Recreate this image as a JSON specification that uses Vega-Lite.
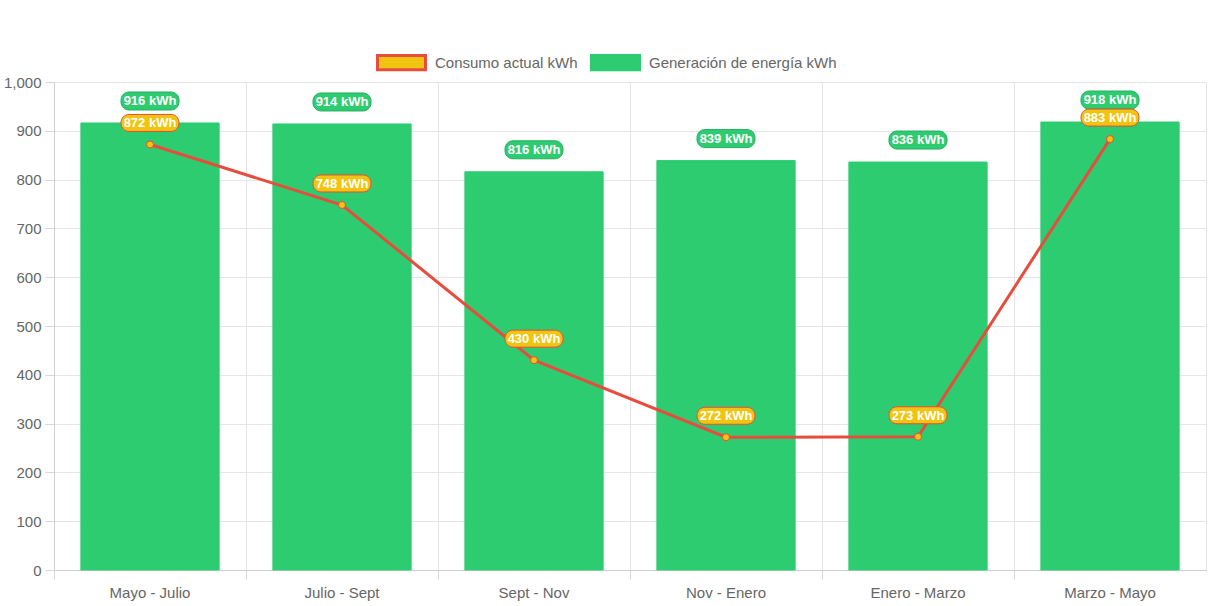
{
  "$schema": "https://vega.github.io/schema/vega-lite/v6.json",
  "width": 1152,
  "height": 488,
  "autosize": "none",
  "padding": {"left": 54, "top": 82, "right": 7, "bottom": 36},
  "background": "white",
  "data": {
    "values": [
      {"periodo": "Mayo - Julio", "generacion": 916, "consumo": 872},
      {"periodo": "Julio - Sept", "generacion": 914, "consumo": 748},
      {"periodo": "Sept - Nov", "generacion": 816, "consumo": 430},
      {"periodo": "Nov - Enero", "generacion": 839, "consumo": 272},
      {"periodo": "Enero - Marzo", "generacion": 836, "consumo": 273},
      {"periodo": "Marzo - Mayo", "generacion": 918, "consumo": 883}
    ]
  },
  "encoding": {
    "x": {
      "field": "periodo",
      "type": "nominal",
      "sort": null,
      "title": null,
      "scale": {"paddingInner": 0, "paddingOuter": 0},
      "axis": null
    }
  },
  "layer": [
    {
      "mark": {"type": "bar", "width": {"band": 0.72}},
      "encoding": {
        "x": {
          "field": "periodo",
          "type": "nominal",
          "sort": null,
          "title": null,
          "scale": {"paddingInner": 0, "paddingOuter": 0},
          "axis": {
            "orient": "bottom",
            "bandPosition": 0,
            "labels": false,
            "grid": true,
            "gridColor": "#e5e5e5",
            "ticks": true,
            "tickSize": 9,
            "tickColor": "#d6d6d6",
            "domainColor": "#d0d0d0"
          }
        },
        "y": {
          "field": "generacion",
          "type": "quantitative",
          "title": null,
          "scale": {"domain": [0, 1000], "nice": false},
          "axis": {
            "values": [0, 100, 200, 300, 400, 500, 600, 700, 800, 900, 1000],
            "format": ",.0f",
            "grid": true,
            "gridColor": "#e5e5e5",
            "tickSize": 9,
            "tickColor": "#d6d6d6",
            "domainColor": "#d0d0d0",
            "labelPadding": 4
          }
        },
        "fill": {
          "datum": "Generación de energía kWh",
          "type": "nominal",
          "scale": {
            "domain": ["Consumo actual kWh", "Generación de energía kWh"],
            "range": ["#f1c40f", "#2ecc71"]
          },
          "legend": {
            "orient": "none",
            "legendX": 322,
            "legendY": -45,
            "direction": "horizontal",
            "title": null,
            "symbolType": "M-1,-0.3H1V0.3H-1Z",
            "symbolSize": 2304,
            "symbolStrokeWidth": 3,
            "labelFontSize": 15,
            "labelColor": "#666",
            "labelFont": "Liberation Sans",
            "labelLimit": 400,
            "labelOffset": 8,
            "columnPadding": 7
          }
        },
        "stroke": {
          "datum": "Generación de energía kWh",
          "type": "nominal",
          "scale": {
            "domain": ["Consumo actual kWh", "Generación de energía kWh"],
            "range": ["#e74c3c", "#2ecc71"]
          },
          "legend": {
            "orient": "none",
            "legendX": 322,
            "legendY": -45,
            "direction": "horizontal",
            "title": null,
            "symbolType": "M-1,-0.3H1V0.3H-1Z",
            "symbolSize": 2304,
            "symbolStrokeWidth": 3,
            "labelFontSize": 15,
            "labelColor": "#666",
            "labelFont": "Liberation Sans",
            "labelLimit": 400,
            "labelOffset": 8,
            "columnPadding": 7
          }
        }
      }
    },
    {
      "mark": {
        "type": "bar",
        "width": 58,
        "cornerRadius": 8,
        "fill": "#2ecc71",
        "stroke": "#27ae60",
        "strokeWidth": 1,
        "yOffset": -31,
        "y2Offset": -13
      },
      "encoding": {
        "x": {
          "field": "periodo",
          "type": "nominal",
          "sort": null,
          "title": null,
          "scale": {"paddingInner": 0, "paddingOuter": 0},
          "axis": {
            "orient": "bottom",
            "labels": true,
            "ticks": false,
            "grid": false,
            "domain": false,
            "labelAngle": 0,
            "labelPadding": 15,
            "labelFontSize": 15,
            "labelColor": "#666",
            "labelFont": "Liberation Sans"
          }
        },
        "y": {"field": "generacion", "type": "quantitative", "title": null},
        "y2": {"field": "generacion"}
      }
    },
    {
      "mark": {
        "type": "text",
        "color": "white",
        "fontWeight": "bold",
        "fontSize": 13,
        "font": "Liberation Sans",
        "baseline": "middle",
        "yOffset": -22,
        "text": {"expr": "datum.generacion + ' kWh'"}
      },
      "encoding": {
        "y": {"field": "generacion", "type": "quantitative", "title": null}
      }
    },
    {
      "mark": {"type": "line", "color": "#e74c3c", "strokeWidth": 3},
      "encoding": {
        "y": {"field": "consumo", "type": "quantitative", "title": null}
      }
    },
    {
      "mark": {
        "type": "point",
        "filled": true,
        "fill": "#f1c40f",
        "stroke": "#e74c3c",
        "strokeWidth": 1,
        "size": 50,
        "opacity": 1
      },
      "encoding": {
        "y": {"field": "consumo", "type": "quantitative", "title": null}
      }
    },
    {
      "mark": {
        "type": "bar",
        "width": 58,
        "cornerRadius": 8,
        "fill": "#f1c40f",
        "stroke": "#e74c3c",
        "strokeWidth": 1,
        "yOffset": -30,
        "y2Offset": -13
      },
      "encoding": {
        "y": {"field": "consumo", "type": "quantitative", "title": null},
        "y2": {"field": "consumo"}
      }
    },
    {
      "mark": {
        "type": "text",
        "color": "white",
        "fontWeight": "bold",
        "fontSize": 13,
        "font": "Liberation Sans",
        "baseline": "middle",
        "yOffset": -21,
        "text": {"expr": "datum.consumo + ' kWh'"}
      },
      "encoding": {
        "y": {"field": "consumo", "type": "quantitative", "title": null}
      }
    }
  ],
  "resolve": {"axis": {"x": "independent"}},
  "config": {
    "view": {"stroke": "#e5e5e5"},
    "axis": {
      "labelFont": "Liberation Sans",
      "labelFontSize": 15,
      "labelColor": "#666"
    }
  }
}
